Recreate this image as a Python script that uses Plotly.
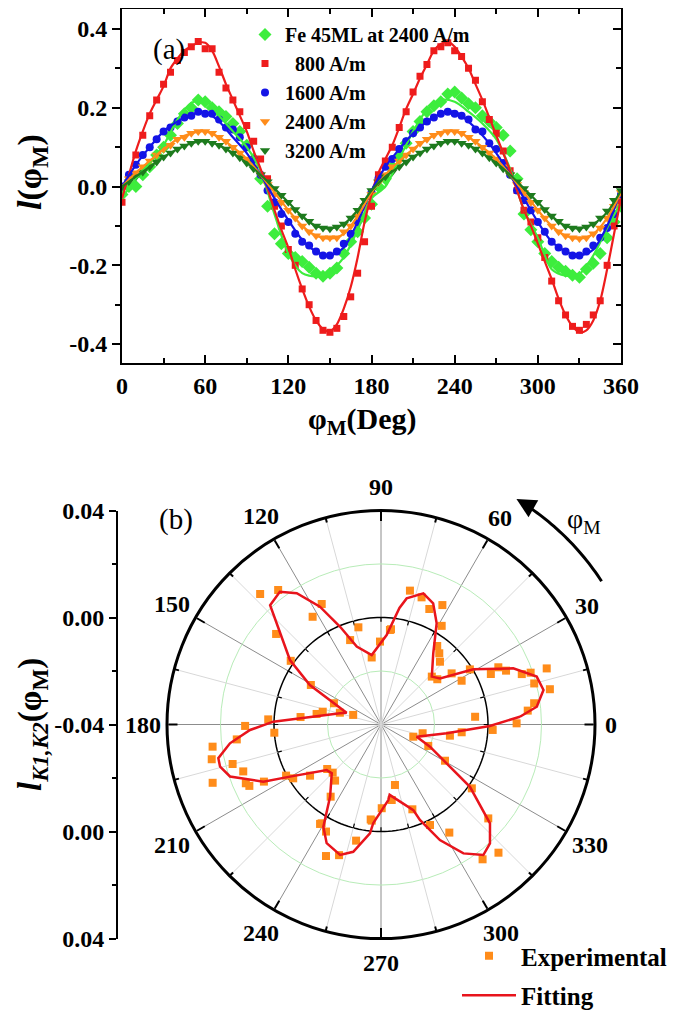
import numpy as np
import plotly.graph_objects as go

# The page body adds an 8 px margin, so the figure is drawn 8 px smaller and all
# target pixel positions are shifted by that offset.
OFF = 8
W, H = 685 - OFF, 1016 - OFF
FONT = "Liberation Serif"

# ---------------- Panel (a) data ----------------
phi = list(range(0, 361, 5))        # marker angles (deg)
phi_fit = list(range(0, 361, 10))   # fit angles (deg)

fe45_pts = [-0.02, 0.0, 0.0, 0.03, 0.05, 0.08, 0.10, 0.13, 0.16, 0.185,
            0.20, 0.22, 0.215, 0.20, 0.19, 0.178, 0.16, 0.14, 0.105, 0.07,
            0.02, -0.05, -0.12, -0.145, -0.17, -0.18, -0.19, -0.205, -0.22, -0.228,
            -0.22, -0.207, -0.17, -0.14, -0.115, -0.08, -0.045, 0.0, 0.02, 0.05,
            0.075, 0.11, 0.14, 0.165, 0.19, 0.205, 0.215, 0.235, 0.24, 0.225,
            0.21, 0.20, 0.18, 0.165, 0.15, 0.13, 0.09, 0.02, -0.07, -0.11,
            -0.14, -0.17, -0.19, -0.205, -0.215, -0.225, -0.23, -0.21, -0.195, -0.17,
            -0.13, -0.09, -0.05]
h800_pts = [-0.04, 0.02, 0.08, 0.13, 0.18, 0.22, 0.26, 0.29, 0.32, 0.34,
            0.355, 0.368, 0.35, 0.35, 0.29, 0.25, 0.22, 0.19, 0.155, 0.115,
            0.07, 0.02, -0.05, -0.10, -0.16, -0.20, -0.26, -0.30, -0.34, -0.365,
            -0.37, -0.36, -0.33, -0.28, -0.22, -0.14, -0.05, 0.03, 0.065, 0.10,
            0.15, 0.19, 0.24, 0.28, 0.31, 0.345, 0.355, 0.365, 0.345, 0.33,
            0.30, 0.27, 0.215, 0.17, 0.135, 0.09, 0.04, -0.01, -0.06, -0.09,
            -0.13, -0.18, -0.24, -0.29, -0.326, -0.355, -0.365, -0.35, -0.326, -0.29,
            -0.20, -0.10, -0.04]
h1600_pts = [0.0, 0.03, 0.055, 0.08, 0.10, 0.12, 0.14, 0.15, 0.165, 0.175,
             0.18, 0.19, 0.185, 0.185, 0.17, 0.15, 0.145, 0.125, 0.10, 0.07,
             0.03, -0.01, -0.04, -0.07, -0.09, -0.12, -0.14, -0.15, -0.165, -0.175,
             -0.175, -0.165, -0.145, -0.12, -0.09, -0.05, -0.015, 0.02, 0.05, 0.07,
             0.095, 0.115, 0.135, 0.15, 0.165, 0.175, 0.185, 0.19, 0.185, 0.18,
             0.17, 0.145, 0.14, 0.11, 0.095, 0.06, 0.03, -0.01, -0.035, -0.06,
             -0.09, -0.115, -0.14, -0.155, -0.165, -0.175, -0.175, -0.165, -0.15, -0.13,
             -0.105, -0.07, -0.02]
h2400_pts = [0.0, 0.02, 0.035, 0.05, 0.065, 0.08, 0.095, 0.105, 0.12, 0.125,
             0.135, 0.14, 0.14, 0.135, 0.125, 0.115, 0.10, 0.085, 0.07, 0.05,
             0.03, 0.005, -0.02, -0.04, -0.06, -0.08, -0.10, -0.115, -0.125, -0.13,
             -0.13, -0.13, -0.115, -0.10, -0.075, -0.05, -0.02, 0.01, 0.03, 0.05,
             0.065, 0.08, 0.095, 0.11, 0.12, 0.13, 0.135, 0.14, 0.14, 0.135,
             0.125, 0.115, 0.10, 0.085, 0.07, 0.05, 0.03, 0.005, -0.015, -0.04,
             -0.06, -0.08, -0.10, -0.115, -0.125, -0.13, -0.132, -0.13, -0.12, -0.105,
             -0.08, -0.05, -0.015]
h3200_pts = [0.0, 0.012, 0.025, 0.037, 0.05, 0.062, 0.075, 0.085, 0.095, 0.103,
             0.11, 0.115, 0.115, 0.11, 0.105, 0.095, 0.085, 0.073, 0.06, 0.045,
             0.03, 0.012, -0.005, -0.022, -0.04, -0.058, -0.075, -0.088, -0.10, -0.105,
             -0.107, -0.103, -0.095, -0.08, -0.06, -0.035, -0.01, 0.012, 0.025, 0.037,
             0.05, 0.062, 0.075, 0.085, 0.095, 0.103, 0.11, 0.115, 0.115, 0.11,
             0.105, 0.095, 0.085, 0.073, 0.06, 0.045, 0.03, 0.012, -0.005, -0.022,
             -0.04, -0.058, -0.075, -0.088, -0.10, -0.105, -0.107, -0.103, -0.095, -0.08,
             -0.062, -0.035, -0.01]

h800_fit = [-0.03, 0.03, 0.09, 0.14, 0.185, 0.22, 0.255, 0.30, 0.325, 0.345,
            0.356, 0.365, 0.365, 0.345, 0.305, 0.26, 0.22, 0.18, 0.14, 0.09,
            0.045, -0.005, -0.06, -0.11, -0.155, -0.21, -0.26, -0.305, -0.34, -0.362,
            -0.368, -0.35, -0.31, -0.255, -0.18, -0.09, -0.02, 0.035, 0.07, 0.105,
            0.15, 0.197, 0.235, 0.275, 0.31, 0.345, 0.362, 0.368, 0.355, 0.33,
            0.30, 0.26, 0.22, 0.175, 0.13, 0.085, 0.04, -0.01, -0.06, -0.10,
            -0.145, -0.19, -0.235, -0.285, -0.326, -0.355, -0.37, -0.365, -0.34, -0.29,
            -0.21, -0.12, -0.03]
fe45_fit = [-0.03, 0.02, 0.06, 0.105, 0.17, 0.212, 0.22, 0.18, 0.14, 0.10,
            0.04, -0.07, -0.17, -0.22, -0.228, -0.215, -0.18, -0.11, -0.03, 0.0,
            0.07, 0.14, 0.195, 0.22, 0.215, 0.19, 0.16, 0.12, 0.045, -0.06,
            -0.13, -0.21, -0.226, -0.222, -0.175, -0.105, -0.04]
h1600_fit = [0.0, 0.055, 0.10, 0.14, 0.165, 0.183, 0.19, 0.165, 0.125, 0.085,
             0.03, -0.03, -0.085, -0.135, -0.165, -0.175, -0.155, -0.09, -0.01, 0.05,
             0.095, 0.135, 0.165, 0.185, 0.19, 0.165, 0.13, 0.085, 0.03, -0.03,
             -0.09, -0.14, -0.165, -0.175, -0.16, -0.10, -0.01]
h2400_fit = [0.0, 0.035, 0.065, 0.095, 0.12, 0.135, 0.14, 0.125, 0.10, 0.07,
             0.03, -0.015, -0.06, -0.10, -0.125, -0.132, -0.12, -0.075, -0.015, 0.03,
             0.065, 0.095, 0.12, 0.138, 0.14, 0.125, 0.10, 0.07, 0.03, -0.015,
             -0.06, -0.10, -0.125, -0.132, -0.12, -0.08, -0.015]
h3200_fit = [0.0, 0.025, 0.05, 0.075, 0.095, 0.11, 0.115, 0.105, 0.085, 0.06,
             0.03, -0.005, -0.04, -0.075, -0.10, -0.106, -0.095, -0.06, -0.01, 0.025,
             0.05, 0.075, 0.095, 0.11, 0.115, 0.105, 0.085, 0.06, 0.03, -0.005,
             -0.04, -0.075, -0.10, -0.106, -0.095, -0.065, -0.01]

legend_a = ["Fe 45ML at 2400 A/m", "\u00a0\u00a0800 A/m", "1600 A/m", "2400 A/m", "3200 A/m"]

# ---------------- Panel (b) data ----------------
exp_theta = [0.5, 4.7, 5.4, 7.9, 11.8, 15, 18.7, 19.1, 19.7, 23.3, 24.7, 26, 28.5, 31.8, 35.9,
             38.8, 43.3, 46.8, 50.7, 54.4, 58.4, 62.8, 67.3, 72.3, 77.8, 84, 84.6, 90.7, 97.9,
             103.1, 110.1, 116.2, 122.4, 127.4, 132.8, 139.2, 144.8, 150.6, 155.7, 161, 164,
             167.6, 170.7, 174.7, 177.4, 180.6, 184.4, 185.9, 187.5, 191.6, 194.9, 198.8, 199.1,
             203.5, 205, 206, 208.3, 211.5, 215.8, 219.6, 224.9, 230.7, 235.1, 238.5, 239, 242.8,
             247.3, 252.2, 257.9, 263.8, 264.5, 270.5, 278.1, 283, 290.3, 296, 302.3, 307, 312.5,
             318.8, 324.9, 330.5, 335.6, 339.3, 348.1, 350.8, 354.5, 357.2]
exp_r = [0.0107, -0.0047, 0.0151, 0.0178, 0.0245, 0.0193, 0.0254, 0.0192, 0.0159, 0.0109,
         0.0052, 0.0088, -0.0057, -0.0009, -0.0074, -0.0130, -0.0139, -0.0078, -0.0056, -0.0039,
         0.0033, 0.0102, 0.0068, 0.0099, 0.0112, -0.0042, -0.0045, -0.0090, -0.0147, -0.0027,
         -0.0064, 0.0102, 0.0077, 0.0233, 0.0265, 0.0118, 0.0013, -0.0099, -0.0207, -0.0290,
         -0.0240, -0.0177, -0.0156, -0.0098, 0.0022, 0.0108, 0.0000, 0.0142, 0.0235, 0.0246,
         0.0174, 0.0144, 0.0266, 0.0151, 0.0143, 0.0087, 0.0003, -0.0015, -0.0073, -0.0139,
         -0.0145, -0.0129, -0.0071, 0.0036, 0.0031, 0.0050, 0.0133, 0.0113, 0.0044, -0.0043,
         -0.0039, -0.0087, -0.0115, -0.0168, -0.0062, 0.0018, 0.0078, 0.0231, 0.0250, 0.0133,
         0.0015, -0.0125, -0.0206, -0.0271, -0.0241, -0.0139, -0.0097, 0.0018]
fit_theta = [3.2, 6.5, 12, 17.1, 23, 30.9, 38, 43.3, 53.7, 61.2, 66.7, 72.1, 78.5, 81, 86.4,
             97.6, 107.3, 112.7, 117.4, 122.7, 127.3, 132.9, 144.7, 151, 161, 164.7, 178.5,
             182.4, 187.1, 191.7, 194.7, 199, 205.9, 209.8, 220, 224.7, 234.8, 240.6, 245.4,
             252.6, 257.7, 264.2, 265.5, 275.5, 277, 290.7, 292.2, 297, 302.6, 308.1, 312.5,
             317.8, 325, 335.6, 341, 352.4, 359.2, 363.2]
fit_r = [0.0120, 0.0186, 0.0221, 0.0209, 0.0137, 0.0002, -0.0120, -0.0139, -0.0070, 0.0032,
         0.0093, 0.0115, 0.0081, 0.0041, -0.0065, -0.0138, -0.0095, -0.0004, 0.0096, 0.0183,
         0.0224, 0.0209, 0.0017, -0.0096, -0.0264, -0.0241, 0.0003, 0.0090, 0.0169, 0.0221,
         0.0222, 0.0197, 0.0089, -0.0008, -0.0135, -0.0141, -0.0070, 0.0039, 0.0088, 0.0111,
         0.0087, 0.0009, -0.0030, -0.0116, -0.0135, -0.0058, -0.0015, 0.0085, 0.0172, 0.0220,
         0.0203, 0.0150, 0.0006, -0.0199, -0.0259, -0.0152, 0.0007, 0.0120]

R_MIN, R_MAX = -0.04, 0.04
angle_ticks = list(range(0, 360, 30))
left_tickvals = [-0.08, -0.04, 0.0, 0.04, 0.08]
left_ticktext = ["0.04", "0.00", "-0.04", "0.00", "0.04"]


def px(x):
    return (x - OFF) / W


def py(y):
    return 1 - (y - OFF) / H


fig = go.Figure()

series = [
    (legend_a[0], fe45_pts, fe45_fit, phi_fit, "#3ded3d", "diamond", 10),
    (legend_a[1], h800_pts, h800_fit, phi, "#ee1c1c", "square", 7),
    (legend_a[2], h1600_pts, h1600_fit, phi_fit, "#1414e6", "circle", 8),
    (legend_a[3], h2400_pts, h2400_fit, phi_fit, "#ff8c1a", "triangle-down", 9),
    (legend_a[4], h3200_pts, h3200_fit, phi_fit, "#1e7b1e", "triangle-down", 9),
]
for name, pts, fit, fx, col, sym, sz in series:
    fig.add_trace(go.Scatter(x=phi, y=pts, mode="markers", name=name,
                             marker=dict(color=col, symbol=sym, size=sz, line=dict(width=0)),
                             legend="legend", xaxis="x", yaxis="y"))
for name, pts, fit, fx, col, sym, sz in series:
    fig.add_trace(go.Scatter(x=fx, y=fit, mode="lines", showlegend=False,
                             line=dict(color=col, width=2.2, shape="spline", smoothing=0.8),
                             xaxis="x", yaxis="y3"))

# empty trace so the stand-alone radial scale of panel (b) is drawn
fig.add_trace(go.Scatter(x=[], y=[], xaxis="x2", yaxis="y2", showlegend=False,
                         hoverinfo="skip"))

# ---------------- polar decorations ----------------
circ = np.arange(0, 361, 2)
fig.add_trace(go.Scatterpolar(r=[0.0] * len(circ), theta=circ, mode="lines",
                              line=dict(color="black", width=1.5), showlegend=False,
                              hoverinfo="skip"))
minor_t, minor_r, tick_t, tick_r, zt_t, zt_r = [], [], [], [], [], []
for a in range(15, 360, 30):
    minor_t += [a, a, None]
    minor_r += [R_MIN, R_MAX, None]
    tick_t += [a, a, None]
    tick_r += [R_MAX - 0.0018, R_MAX, None]
for a in range(0, 360, 15):
    zt_t += [a, a, None]
    zt_r += [-0.0016, 0.0, None]
fig.add_trace(go.Scatterpolar(r=minor_r, theta=minor_t, mode="lines",
                              line=dict(color="#d8d8d8", width=1), showlegend=False,
                              hoverinfo="skip", connectgaps=False))
fig.add_trace(go.Scatterpolar(r=tick_r, theta=tick_t, mode="lines",
                              line=dict(color="black", width=2), showlegend=False,
                              hoverinfo="skip", connectgaps=False))
fig.add_trace(go.Scatterpolar(r=zt_r, theta=zt_t, mode="lines",
                              line=dict(color="black", width=1.2), showlegend=False,
                              hoverinfo="skip", connectgaps=False))

fig.add_trace(go.Scatterpolar(r=exp_r, theta=exp_theta, mode="markers", name="Experimental",
                              marker=dict(color="#ff8c1a", symbol="square", size=8),
                              legend="legend2", legendgroup="e"))
fig.add_trace(go.Scatterpolar(r=fit_r, theta=fit_theta, mode="lines", name="Fitting",
                              line=dict(color="#e8141c", width=2.5),
                              legend="legend2", legendgroup="f"))

tickfont = dict(family=FONT, size=24, color="black", weight="bold")

fig.update_layout(
    width=W, height=H, autosize=False,
    margin=dict(l=0, r=0, t=0, b=0, autoexpand=False),
    paper_bgcolor="white", plot_bgcolor="white",
    font=dict(family=FONT, color="black"),
    xaxis=dict(domain=[px(122), px(621)], anchor="y", range=[0, 360],
               tickvals=[0, 60, 120, 180, 240, 300, 360], ticks="inside", ticklen=8,
               tickwidth=2, tickcolor="black",
               minor=dict(tickvals=[30, 90, 150, 210, 270, 330], ticks="inside",
                          ticklen=5, tickwidth=2, tickcolor="black"),
               showline=True, linewidth=2, linecolor="black", mirror="ticks",
               showgrid=False, zeroline=False, tickfont=tickfont, automargin=False),
    yaxis=dict(domain=[py(363), py(8.5)], anchor="x", range=[-0.448, 0.452],
               tickvals=[-0.4, -0.2, 0.0, 0.2, 0.4],
               ticktext=["-0.4", "-0.2", "0.0", "0.2", "0.4"],
               ticks="outside", ticklen=8, tickwidth=2, tickcolor="black",
               minor=dict(tickvals=[-0.3, -0.1, 0.1, 0.3], ticks="outside",
                          ticklen=5, tickwidth=2, tickcolor="black"),
               showline=True, linewidth=2, linecolor="black", mirror=True,
               showgrid=False, zeroline=False, tickfont=tickfont, automargin=False),
    yaxis3=dict(overlaying="y", side="right", anchor="x", range=[-0.448, 0.452],
                tickvals=[-0.4, -0.2, 0.0, 0.2, 0.4], ticks="inside", ticklen=8,
                tickwidth=2, tickcolor="black", showticklabels=False,
                minor=dict(tickvals=[-0.3, -0.1, 0.1, 0.3], ticks="inside",
                           ticklen=5, tickwidth=2, tickcolor="black"),
                showline=False, showgrid=False, zeroline=False, automargin=False),
    xaxis2=dict(domain=[px(118), px(130)], anchor="y2", range=[0, 1], visible=False),
    yaxis2=dict(domain=[py(938.5), py(510.5)], anchor="x2", range=[-0.08, 0.08],
                tickvals=left_tickvals, ticktext=left_ticktext,
                ticks="outside", ticklen=7, tickwidth=2, tickcolor="black",
                minor=dict(dtick=0.02, ticks="outside", ticklen=4, tickwidth=2,
                           tickcolor="black"),
                showline=True, linewidth=2, linecolor="black",
                showgrid=False, zeroline=False, tickfont=tickfont, automargin=False),
    polar=dict(
        domain=dict(x=[px(381 - 214), px(381 + 214)], y=[py(938.5), py(510.5)]),
        bgcolor="white",
        angularaxis=dict(rotation=0, direction="counterclockwise",
                         tickvals=angle_ticks, showticklabels=False,
                         ticks="inside", ticklen=9, tickwidth=2, tickcolor="black",
                         showline=True, linecolor="black", linewidth=3,
                         showgrid=True, gridcolor="#8c8c8c", gridwidth=1),
        radialaxis=dict(range=[R_MIN, R_MAX], tickvals=[-0.02, 0.02],
                        showticklabels=False, ticks="", showline=False,
                        gridcolor="#b8ecb8", gridwidth=1, angle=0),
    ),
    legend=dict(x=px(245), y=py(15), xanchor="left", yanchor="top",
                bgcolor="rgba(0,0,0,0)", borderwidth=0, tracegroupgap=0,
                font=dict(family=FONT, size=20, color="black", weight="bold"),
                itemsizing="trace"),
    legend2=dict(x=px(457), y=py(933), xanchor="left", yanchor="top",
                 bgcolor="rgba(0,0,0,0)", borderwidth=0, tracegroupgap=4,
                 itemwidth=54,
                 font=dict(family=FONT, size=25, color="black", weight="bold")),
    showlegend=True,
)

cx, cy, R = 381, 724.5, 214
annotations = [
    dict(text="(a)", x=px(169), y=py(50), font=dict(family=FONT, size=29)),
    dict(text="(b)", x=px(176), y=py(519), font=dict(family=FONT, size=29)),
    dict(text="<b>φ<sub>M</sub>(Deg)</b>", x=px(362), y=py(421),
         font=dict(family=FONT, size=30)),
    dict(text="<b><i>l</i>(φ<sub>M</sub>)</b>", x=px(32), y=py(172), textangle=-90,
         font=dict(family=FONT, size=34)),
    dict(text="<b><i>l</i><sub><i>K1,K2</i></sub>(φ<sub>M</sub>)</b>", x=px(32), y=py(725),
         textangle=-90, font=dict(family=FONT, size=33)),
    dict(text="φ<sub>M</sub>", x=px(584), y=py(520), font=dict(family=FONT, size=28)),
]
# angular tick labels placed just outside the outer circle
for a in angle_ticks:
    t = np.radians(a)
    lab = str(a)
    rl = R + 16 + 8 * abs(np.sin(t)) + (len(lab) - 1) * 4 * abs(np.cos(t))
    annotations.append(dict(text=f"<b>{lab}</b>", x=px(cx + rl * np.cos(t)),
                            y=py(cy - rl * np.sin(t)), font=dict(family=FONT, size=24)))
for a in annotations:
    a.update(xref="paper", yref="paper", showarrow=False, xanchor="center", yanchor="middle")

# curved arrow indicating the sense of φM
Rarc = 263
angs = np.radians(np.linspace(33, 56, 30))
pts_arc = [(px(cx + Rarc * np.cos(t)), py(cy - Rarc * np.sin(t))) for t in angs]
path = "M " + " L ".join(f"{x:.5f},{y:.5f}" for x, y in pts_arc)
fig.add_shape(type="path", path=path, xref="paper", yref="paper",
              line=dict(color="black", width=3))
tip = np.radians(59)
annotations.append(dict(x=px(cx + Rarc * np.cos(tip)), y=py(cy - Rarc * np.sin(tip)),
                        xref="paper", yref="paper", text="", showarrow=True,
                        ax=14, ay=8, arrowhead=2, arrowsize=1.3, arrowwidth=3,
                        arrowcolor="black"))
fig.update_layout(annotations=annotations)

fig.write_html("out.html")
